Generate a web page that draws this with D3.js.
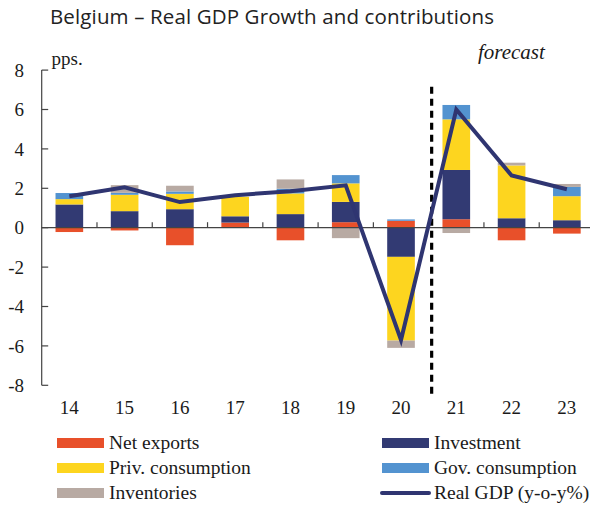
<!DOCTYPE html>
<html><head><meta charset="utf-8">
<script src="https://cdn.jsdelivr.net/npm/d3@7/dist/d3.min.js"></script>
<style>body{margin:0;background:#fff}svg{display:block}</style>
</head><body>
<svg id="c" width="590" height="506"></svg>
<script>
const categories = ["14","15","16","17","18","19","20","21","22","23"];
const netExports = [-0.22,-0.14,-0.89,0.26,-0.64,0.28,0.35,0.43,-0.64,-0.30];
const investment = [1.18,0.84,0.94,0.32,0.69,1.03,-1.48,2.50,0.48,0.38];
const privCons   = [0.27,0.83,0.78,0.99,1.05,0.94,-4.25,2.57,2.68,1.22];
const govCons    = [0.31,0.10,0.12,0.00,0.24,0.42,0.07,0.73,0.00,0.47];
const inventories= [0.00,0.39,0.29,0.00,0.47,-0.53,-0.37,-0.27,0.14,0.15];
const realGDP    = [1.60,2.05,1.30,1.65,1.85,2.15,-5.70,6.00,2.65,1.95];
const yTicks = [-8,-6,-4,-2,0,2,4,6,8];

const seriesNames = ["Net exports","Investment","Priv. consumption","Gov. consumption","Inventories"];
const seriesVals = [netExports,investment,privCons,govCons,inventories];
const colors = ["#E8502A","#323A73","#FDD51F","#5393D0","#B8AAA3"];
const lineColor = "#2F3571";

const svg = d3.select("#c");
const serif = "'Liberation Serif','Times New Roman',serif";

const x = d3.scaleBand().domain(categories).range([41.7,594.5]).paddingInner(0.5).paddingOuter(0.25);
const y = d3.scaleLinear().domain([-8,8]).range([385.3,70.1]);
const step = x.step();

const rows = categories.map((c,i)=>{const o={cat:c}; seriesNames.forEach((s,j)=>o[s]=seriesVals[j][i]); return o;});
const stack = d3.stack().keys(seriesNames).offset(d3.stackOffsetDiverging)(rows);

// title
svg.append("text").attr("x",50).attr("y",24).attr("font-family","'Open Sans',sans-serif")
  .attr("font-size",20.5).attr("fill","#222").attr("textLength",444).attr("lengthAdjust","spacing")
  .text("Belgium – Real GDP Growth and contributions");

// bars
svg.append("g").selectAll("g").data(stack).join("g").attr("fill",(d,i)=>colors[i])
  .selectAll("rect").data(d=>d).join("rect")
  .attr("x",d=>x(d.data.cat)).attr("width",x.bandwidth())
  .attr("y",d=>y(Math.max(d[0],d[1]))).attr("height",d=>Math.abs(y(d[0])-y(d[1])));

// axes
const axC = "#444";
const gy = svg.append("g");
gy.append("line").attr("x1",x.range()[0]).attr("x2",x.range()[0]).attr("y1",y(-8)).attr("y2",y(8)).attr("stroke",axC).attr("stroke-width",1.2);
gy.selectAll("line.t").data(yTicks).join("line").attr("class","t")
  .attr("x1",x.range()[0]).attr("x2",x.range()[0]+6.5).attr("y1",d=>y(d)).attr("y2",d=>y(d)).attr("stroke",axC).attr("stroke-width",1.2);
gy.selectAll("text").data(yTicks).join("text")
  .attr("x",24).attr("y",d=>y(d)).attr("dy","0.35em").attr("text-anchor","end")
  .attr("font-family",serif).attr("font-size",19).attr("fill","#1a1a1a").text(d=>d);

// zero line + category ticks
svg.append("line").attr("x1",x.range()[0]).attr("x2",590).attr("y1",y(0)).attr("y2",y(0)).attr("stroke",axC).attr("stroke-width",1.2);
svg.append("g").selectAll("line").data(categories.slice(1)).join("line")
  .attr("x1",d=>x(d)-step*x.paddingInner()/2).attr("x2",d=>x(d)-step*x.paddingInner()/2)
  .attr("y1",y(0)).attr("y2",y(0)-5.5).attr("stroke",axC).attr("stroke-width",1.2);

svg.append("g").selectAll("text").data(categories).join("text")
  .attr("x",d=>x(d)+x.bandwidth()/2).attr("y",414).attr("text-anchor","middle")
  .attr("font-family",serif).attr("font-size",19).attr("fill","#1a1a1a").text(d=>d);

// pps.
svg.append("text").attr("x",51.5).attr("y",65).attr("font-family",serif).attr("font-size",19).attr("fill","#1a1a1a").text("pps.");

// forecast divider
const dx = x("21") - step*x.paddingInner()/2 + 3;
svg.append("line").attr("x1",dx).attr("x2",dx).attr("y1",y(7.15)).attr("y2",y(-8.6))
  .attr("stroke","#000").attr("stroke-width",3.2).attr("stroke-dasharray","7,5");
svg.append("text").attr("x",478).attr("y",59).attr("font-family",serif).attr("font-style","italic")
  .attr("font-size",21).attr("fill","#1a1a1a").text("forecast");

// GDP line
svg.append("path").datum(realGDP).attr("fill","none").attr("stroke",lineColor).attr("stroke-width",4)
  .attr("stroke-linejoin","miter")
  .attr("d",d3.line().x((d,i)=>x(categories[i])+x.bandwidth()/2).y(d=>y(d)));

// legend
const legItems = [
  {name:"Net exports",type:"rect",c:colors[0],col:0,row:0},
  {name:"Investment",type:"rect",c:colors[1],col:1,row:0},
  {name:"Priv. consumption",type:"rect",c:colors[2],col:0,row:1},
  {name:"Gov. consumption",type:"rect",c:colors[3],col:1,row:1},
  {name:"Inventories",type:"rect",c:colors[4],col:0,row:2},
  {name:"Real GDP (y-o-y%)",type:"line",c:lineColor,col:1,row:2}
];
const colX = [57,382], rowY = [443,468,493];
const lg = svg.append("g");
legItems.forEach(it=>{
  const sx = colX[it.col], cy = rowY[it.row];
  if(it.type==="rect") lg.append("rect").attr("x",sx).attr("y",cy-5).attr("width",47).attr("height",10).attr("fill",it.c);
  else lg.append("line").attr("x1",sx).attr("x2",sx+47).attr("y1",cy).attr("y2",cy).attr("stroke",it.c).attr("stroke-width",4).attr("stroke-linecap","round");
  lg.append("text").attr("x",sx+52).attr("y",cy).attr("dy","0.33em").attr("font-family",serif).attr("font-size",19.5).attr("fill","#1a1a1a").text(it.name);
});
</script>
</body></html>
